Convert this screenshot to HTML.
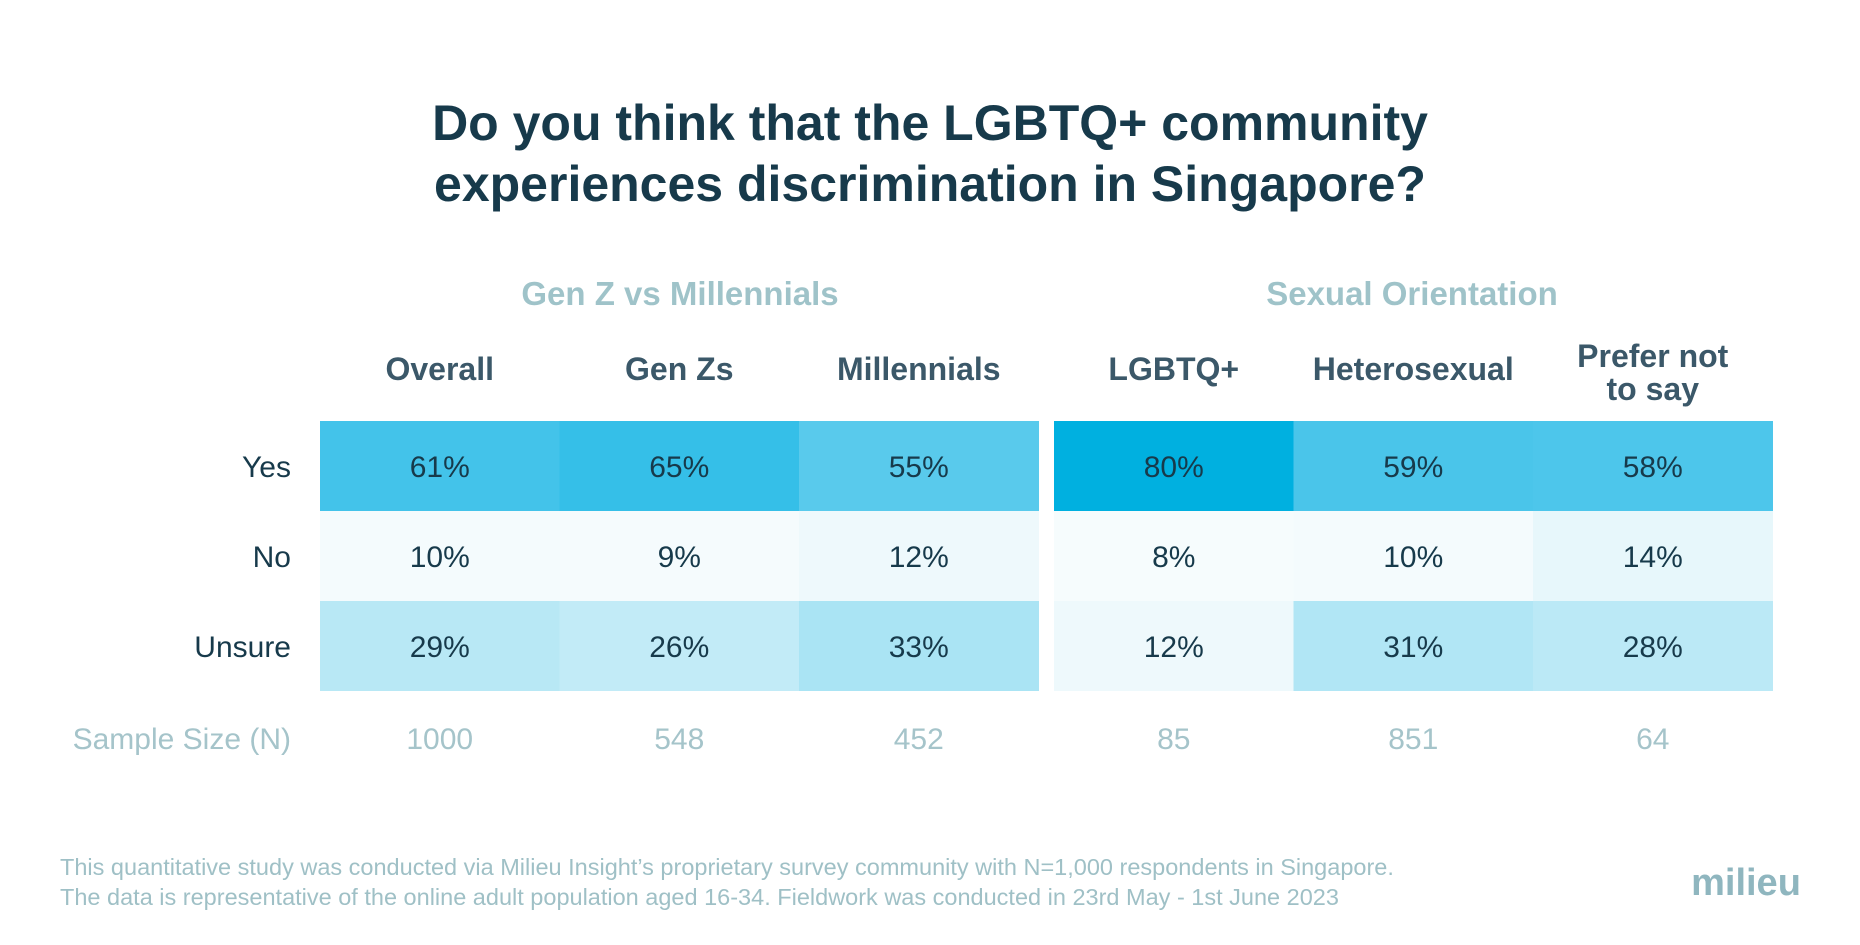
<!DOCTYPE html>
<html><head><meta charset="utf-8">
<style>
html,body{margin:0;padding:0;background:#fff;}
svg{display:block;font-family:"Liberation Sans",sans-serif;}
</style></head>
<body>
<svg id="chart" width="1860" height="945" viewBox="0 0 1860 945">
<g fill="#173a4b" font-size="50" font-weight="bold" text-anchor="middle">
<text x="930" y="140">Do you think that the LGBTQ+ community</text>
<text x="930" y="201">experiences discrimination in Singapore?</text>
</g>
<text x="680" y="305" text-anchor="middle" font-size="33" font-weight="bold" fill="#9fc3c9">Gen Z vs Millennials</text>
<text x="1412" y="305" text-anchor="middle" font-size="33" font-weight="bold" fill="#9fc3c9">Sexual Orientation</text>
<g id="cells"></g>
<g id="labels"></g>
<g fill="#9fc0c6" font-size="23.5">
<text x="60" y="875">This quantitative study was conducted via Milieu Insight’s proprietary survey community with N=1,000 respondents in Singapore.</text>
<text x="60" y="905">The data is representative of the online adult population aged 16-34. Fieldwork was conducted in 23rd May - 1st June 2023</text>
</g>
<text x="1746" y="895" text-anchor="middle" font-size="38" font-weight="bold" fill="#8fb6bf">milieu</text>
</svg>
<script>
const columns = ["Overall","Gen Zs","Millennials","LGBTQ+","Heterosexual","Prefer not to say"];
const rows = ["Yes","No","Unsure"];
const yesValues = [61,65,55,80,59,58];
const noValues = [10,9,12,8,10,14];
const unsureValues = [29,26,33,12,31,28];
const sampleSizes = [1000,548,452,85,851,64];

const series = [yesValues,noValues,unsureValues];
const NS = "http://www.w3.org/2000/svg";
const cellW = 239.5, rowH = 90, gridTop = 421;
const stopVals = [0, 10, 30, 60, 80];
const stopCols = [[255,255,255],[244,251,253],[181,231,245],[70,196,234],[0,176,224]];
function colX(i){ return (i < 3 ? 320 : 1054) + (i % 3) * cellW; }
function rowY(j){ return gridTop + j * rowH; }
function color(v){
  let k = 0;
  while (k < stopVals.length - 2 && v > stopVals[k + 1]) k++;
  const t = Math.max(0, Math.min(1, (v - stopVals[k]) / (stopVals[k + 1] - stopVals[k])));
  const a = stopCols[k], b = stopCols[k + 1];
  const c = a.map((x, n) => Math.round(x + (b[n] - x) * t));
  return `rgb(${c[0]},${c[1]},${c[2]})`;
}
function mk(tag, attrs, parent){
  const el = document.createElementNS(NS, tag);
  for (const k in attrs) el.setAttribute(k, attrs[k]);
  parent.appendChild(el);
  return el;
}
const cells = document.getElementById("cells");
const labels = document.getElementById("labels");
series.forEach((vals, j) => {
  vals.forEach((v, i) => {
    const r = mk("rect", {x: colX(i), y: rowY(j), width: cellW + 0.5, height: rowH, fill: color(v)}, cells);
    
    
    const t = mk("text", {x: colX(i) + cellW / 2, y: rowY(j) + rowH / 2 + 11, "text-anchor": "middle", "font-size": "30", fill: "#173a4b"}, labels);
    t.textContent = v + "%";
    
    
  });
  const rl = mk("text", {x: 291, y: rowY(j) + rowH / 2 + 11, "text-anchor": "end", "font-size": "30", fill: "#173a4b"}, labels);
  rl.textContent = rows[j];
  
  
});
columns.forEach((c, i) => {
  const cx = colX(i) + cellW / 2;
  if (c === "Prefer not to say") {
    const a = mk("text", {x: cx, y: 367, "text-anchor": "middle", "font-size": "32", "font-weight": "bold", fill: "#3b5869"}, labels);
    a.textContent = "Prefer not";
    
    
    const b = mk("text", {x: cx, y: 400, "text-anchor": "middle", "font-size": "32", "font-weight": "bold", fill: "#3b5869"}, labels);
    b.textContent = "to say";
    
    
  } else {
    const h = mk("text", {x: cx, y: 380, "text-anchor": "middle", "font-size": "32", "font-weight": "bold", fill: "#3b5869"}, labels);
    h.textContent = c;
    
    
  }
  const s = mk("text", {x: cx, y: 749, "text-anchor": "middle", "font-size": "30", fill: "#a5c4ca"}, labels);
  s.textContent = sampleSizes[i];
  
  
});
const sl = mk("text", {x: 291, y: 749, "text-anchor": "end", "font-size": "30", fill: "#a5c4ca"}, labels);
sl.textContent = "Sample Size (N)";


</script>
</body></html>
